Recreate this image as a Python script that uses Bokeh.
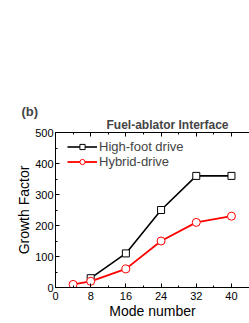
from bokeh.plotting import figure
from bokeh.models import LinearAxis, SingleIntervalTicker, Range1d, Legend, LegendItem, Title
from bokeh.embed import file_html
from bokeh.resources import INLINE

modes_hf = [8, 16, 24, 32, 40]
growth_hf = [30, 110, 250, 360, 360]
modes_hy = [4, 8, 16, 24, 32, 40]
growth_hy = [10, 20, 60, 150, 210, 230]

FONT = "Liberation Sans"

p = figure(width=249, height=323, output_backend="svg", toolbar_location=None,
           x_range=Range1d(0, 44.1), y_range=Range1d(0, 500),
           min_border_left=55, min_border_right=0, min_border_top=132, min_border_bottom=36,
           x_axis_location=None, y_axis_location=None)
p.outline_line_color = None
p.xgrid.visible = False
p.ygrid.visible = False

xb = LinearAxis(ticker=SingleIntervalTicker(interval=8, num_minor_ticks=2))
xb.axis_label = "Mode number"
xt = LinearAxis(ticker=SingleIntervalTicker(interval=8, num_minor_ticks=2))
yl = LinearAxis(ticker=SingleIntervalTicker(interval=100, num_minor_ticks=2))
yl.axis_label = "Growth Factor"
for ax in (xb, xt, yl):
    ax.major_tick_in = 4
    ax.major_tick_out = 0
    ax.minor_tick_in = 2
    ax.minor_tick_out = 0
    ax.axis_line_color = "black"
    ax.major_tick_line_color = "black"
    ax.minor_tick_line_color = "black"
    ax.major_label_text_font = FONT
    ax.major_label_text_font_size = "11px"
    ax.major_label_text_color = "black"
    ax.axis_label_text_font = FONT
    ax.axis_label_text_font_size = "14px"
    ax.axis_label_text_font_style = "normal"
    ax.axis_label_text_color = "black"
xb.major_label_standoff = 4
xb.axis_label_standoff = 0
yl.major_label_standoff = 2
yl.axis_label_standoff = 0
xt.major_label_text_font_size = "0px"
xt.major_label_text_color = None
xt.major_label_standoff = 0
p.add_layout(xb, "below")
p.add_layout(xt, "above")
p.add_layout(yl, "left")

r1 = p.line(modes_hf, growth_hf, line_color="black", line_width=1.6)
s1 = p.scatter(modes_hf, growth_hf, marker="square", size=7, fill_color="white",
               line_color="black", line_width=1)
r2 = p.line(modes_hy, growth_hy, line_color="red", line_width=1.8)
s2 = p.scatter(modes_hy, growth_hy, marker="circle", size=8, fill_color="white",
               line_color="red", line_width=1)

legend = Legend(items=[LegendItem(label="High-foot drive", renderers=[r1, s1]),
                       LegendItem(label="Hybrid-drive", renderers=[r2, s2])],
                location=(12, 118))
legend.label_text_font = FONT
legend.label_text_font_size = "13px"
legend.glyph_width = 30
legend.glyph_height = 13
legend.label_height = 13
legend.spacing = 0
legend.padding = 0
legend.margin = 0
legend.label_standoff = 2
legend.background_fill_alpha = 0
legend.border_line_color = None
p.add_layout(legend)

p.add_layout(Title(text="Fuel-ablator Interface", align="left", offset=51,
                   text_font=FONT, text_font_size="12px", text_font_style="bold",
                   standoff=1), "above")
p.add_layout(Title(text="(b)", align="left", offset=-34,
                   text_font=FONT, text_font_size="13px", text_font_style="bold",
                   standoff=-6), "above")

open("out.html", "w").write(file_html(p, INLINE))
